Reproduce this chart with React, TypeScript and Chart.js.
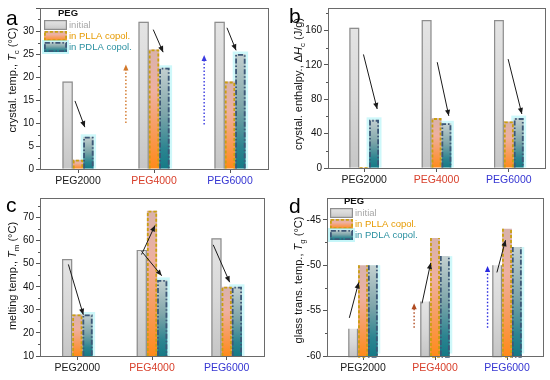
import React, { useEffect, useRef } from 'react';
import { Chart, registerables } from 'chart.js';
Chart.register(...registerables);

// ---------- data ----------
const categories = ['PEG2000', 'PEG4000', 'PEG6000'];
const categoryColors = ['#1a1a1a', '#d8402c', '#3535d2'];
const seriesNames = ['initial', 'in PLLA copol.', 'in PDLA copol.'];
const seriesTextColors = ['#a8a8a8', '#e69a00', '#2a90a0'];

const crystTempInitial = [19, 32, 32];
const crystTempPLLA = [2, 26, 19];
const crystTempPDLA = [7, 22, 25];

const enthalpyInitial = [163, 172, 172];
const enthalpyPLLA = [1, 58, 54];
const enthalpyPDLA = [56, 52, 58];

const meltInitial = [52, 56, 61];
const meltPLLA = [28, 73, 40];
const meltPDLA = [28, 43, 40];

const glassInitial = [-57, -54, -50];
const glassPLLA = [-50, -47, -46];
const glassPDLA = [-50, -49, -48];

// arrows: [fromCategoryIndex, fromValue, toCategoryIndex, toValue]
const arrowsA = [[-0.04, 14.8, 0.09, 9.1], [0.99, 30.3, 1.12, 25.4], [1.96, 30.7, 2.08, 25.8]];
const dottedA = [{ x: 0.63, from: 10, to: 22.7, color: '#d2782a' }, { x: 1.66, from: 9.7, to: 24.8, color: '#3a3ae0' }];
const arrowsB = [[-0.01, 132, 0.18, 68.6], [1.01, 123, 1.17, 60.6], [1.99, 126.6, 2.18, 62.8]];
const arrowsC = [[-0.12, 49.7, 0.08, 27.9], [0.86, 54.0, 1.04, 66.6], [0.86, 55.4, 1.13, 44.8], [1.82, 58.2, 2.04, 42]];
const arrowsD = [[-0.19, -55.8, -0.06, -51.9], [0.82, -54.2, 0.94, -49.75], [1.86, -50.8, 1.98, -47.25]];
const dottedD = [{ x: 0.71, from: -56.9, to: -54.2, color: '#b04a20' }, { x: 1.73, from: -56.9, to: -50.1, color: '#2a2ae0' }];

const FONT = 'Arial, "Liberation Sans", sans-serif';

// ---------- styles ----------
const gradStops: [number, string][][] = [
  [[0, '#e4e4e4'], [0.5, '#d8d8d8'], [1, '#c6c6c6']],
  [[0, '#d8b2ac'], [0.35, '#eeb0a0'], [0.7, '#f89a58'], [1, '#ff8a1a']],
  [[0, '#c4d0d0'], [0.45, '#7fa6aa'], [0.8, '#2c8490'], [1, '#157a86']],
];
const borderStyles = [
  { color: '#8e8e8e', width: 1.2, dash: [] as number[] },
  { color: '#c9a010', width: 1.8, dash: [3, 2] },
  { color: '#3d5878', width: 1.8, dash: [5, 2, 1.5, 2] },
];

function makeGrad(ctx: CanvasRenderingContext2D, top: number, bottom: number, stops: [number, string][]) {
  const g = ctx.createLinearGradient(0, top, 0, Math.max(bottom, top + 1));
  stops.forEach(([o, c]) => g.addColorStop(o, c));
  return g;
}

function bgFor(i: number) {
  return (c: any) => {
    const chart = c.chart;
    const ys = chart.scales && chart.scales.y;
    const stops = gradStops[i];
    if (!ys || c.type !== 'data' || !chart.chartArea) return stops[1][1];
    const raw = c.raw;
    const v = Array.isArray(raw) ? raw[1] : raw;
    const top = ys.getPixelForValue(v);
    return makeGrad(chart.ctx, top, ys.bottom, stops);
  };
}

type Seg = { t: string; s?: 'i' | 'sub' };

function drawTitle(ctx: CanvasRenderingContext2D, cx: number, cy: number, segs: Seg[], size: number) {
  ctx.save();
  ctx.translate(cx, cy);
  ctx.rotate(-Math.PI / 2);
  const fontFor = (s: Seg) =>
    s.s === 'i' ? `italic ${size}px ${FONT}` : s.s === 'sub' ? `${size * 0.72}px ${FONT}` : `${size}px ${FONT}`;
  let total = 0;
  segs.forEach((s) => { ctx.font = fontFor(s); total += ctx.measureText(s.t).width; });
  let x = -total / 2;
  ctx.fillStyle = '#111';
  ctx.textBaseline = 'alphabetic';
  ctx.textAlign = 'left';
  segs.forEach((s) => {
    ctx.font = fontFor(s);
    ctx.fillText(s.t, x, size * 0.36 + (s.s === 'sub' ? size * 0.3 : 0));
    x += ctx.measureText(s.t).width;
  });
  ctx.restore();
}

function arrowHead(ctx: CanvasRenderingContext2D, x0: number, y0: number, x1: number, y1: number, len: number, half: number) {
  const a = Math.atan2(y1 - y0, x1 - x0);
  ctx.beginPath();
  ctx.moveTo(x1, y1);
  ctx.lineTo(x1 - len * Math.cos(a) + half * Math.sin(a), y1 - len * Math.sin(a) - half * Math.cos(a));
  ctx.lineTo(x1 - len * Math.cos(a) - half * Math.sin(a), y1 - len * Math.sin(a) + half * Math.cos(a));
  ctx.closePath();
  ctx.fill();
}

function drawSwatch(ctx: CanvasRenderingContext2D, i: number, x: number, y: number, w: number, h: number) {
  ctx.save();
  if (i === 2) {
    ctx.fillStyle = 'rgba(160,240,245,0.6)';
    ctx.fillRect(x - 2, y - 2, w + 4, h + 4);
  }
  ctx.fillStyle = makeGrad(ctx, y, y + h, gradStops[i]);
  ctx.fillRect(x, y, w, h);
  const b = borderStyles[i];
  ctx.strokeStyle = b.color;
  ctx.lineWidth = b.width;
  ctx.setLineDash(b.dash);
  ctx.strokeRect(x + b.width / 2, y + b.width / 2, w - b.width, h - b.width);
  ctx.restore();
}

type PanelCfg = {
  id: string;
  left: number; top: number;
  L: number; R: number; T: number; B: number;
  series: number[][];
  floor: number;
  yMin: number; yMax: number; step: number; minor: number; hideAbove?: number;
  title: Seg[]; titleX: number; titleY: number;
  letter: string; letterX: number; letterY: number;
  legend?: { x: number; y: number };
  arrows: number[][];
  dotted?: { x: number; from: number; to: number; color: string }[];
};

const panels: PanelCfg[] = [
  {
    id: 'a', left: 0, top: 0, L: 40, R: 7, T: 3, B: 21,
    series: [crystTempInitial, crystTempPLLA, crystTempPDLA], floor: 0,
    yMin: 0, yMax: 35, step: 5, minor: 2.5, hideAbove: 30,
    title: [{ t: 'crystal. temp., ' }, { t: 'T', s: 'i' }, { t: 'c', s: 'sub' }, { t: ' (°C)' }],
    titleX: 12, titleY: 80, letter: 'a', letterX: 6, letterY: 25,
    legend: { x: 44, y: 8 }, arrows: arrowsA, dotted: dottedA,
  },
  {
    id: 'b', left: 275, top: 0, L: 53, R: 5, T: 4, B: 22,
    series: [enthalpyInitial, enthalpyPLLA, enthalpyPDLA], floor: 0,
    yMin: 0, yMax: 186, step: 40, minor: 20,
    title: [{ t: 'crystal. enthalpy., Δ' }, { t: 'H', s: 'i' }, { t: 'c', s: 'sub' }, { t: ' (J/g)' }],
    titleX: 23, titleY: 84, letter: 'b', letterX: 14, letterY: 23,
    arrows: arrowsB,
  },
  {
    id: 'c', left: 0, top: 190, L: 40, R: 11, T: 3, B: 24,
    series: [meltInitial, meltPLLA, meltPDLA], floor: 10,
    yMin: 10, yMax: 78.5, step: 10, minor: 5,
    title: [{ t: 'melting temp., ' }, { t: 'T', s: 'i' }, { t: 'm', s: 'sub' }, { t: ' (°C)' }],
    titleX: 12, titleY: 86, letter: 'c', letterX: 6, letterY: 22,
    arrows: arrowsC,
  },
  {
    id: 'd', left: 275, top: 190, L: 52, R: 7, T: 3, B: 24,
    series: [glassInitial, glassPLLA, glassPDLA], floor: -60,
    yMin: -60, yMax: -42.6, step: 5, minor: 2.5,
    title: [{ t: 'glass trans. temp., ' }, { t: 'T', s: 'i' }, { t: 'g', s: 'sub' }, { t: ' (°C)' }],
    titleX: 23, titleY: 90, letter: 'd', letterX: 14, letterY: 23,
    legend: { x: 55, y: 6 }, arrows: arrowsD, dotted: dottedD,
  },
];

function Panel({ cfg }: { cfg: PanelCfg }) {
  const ref = useRef<HTMLCanvasElement>(null);
  useEffect(() => {
    if (!ref.current) return;
    const plugin = {
      id: 'deco' + cfg.id,
      beforeDatasetsDraw(chart: any) {
        const ctx = chart.ctx as CanvasRenderingContext2D;
        const meta = chart.getDatasetMeta(2);
        ctx.save();
        ctx.fillStyle = 'rgba(165,242,246,0.55)';
        meta.data.forEach((el: any) => {
          const p = el.getProps(['x', 'y', 'base', 'width'], true);
          ctx.fillRect(p.x - p.width / 2 - 2.5, p.y - 2.5, p.width + 5, p.base - p.y + 2.5);
        });
        ctx.restore();
      },
      afterDatasetsDraw(chart: any) {
        const ctx = chart.ctx as CanvasRenderingContext2D;
        const xs = chart.scales.x, ys = chart.scales.y;
        ctx.save();
        [0, 1, 2].forEach((i) => {
          const meta = chart.getDatasetMeta(i);
          const b = borderStyles[i];
          ctx.strokeStyle = b.color;
          ctx.lineWidth = b.width;
          ctx.setLineDash(b.dash);
          meta.data.forEach((el: any) => {
            const p = el.getProps(['x', 'y', 'base', 'width'], true);
            const hw = b.width / 2;
            ctx.beginPath();
            ctx.moveTo(p.x - p.width / 2 + hw, p.base);
            ctx.lineTo(p.x - p.width / 2 + hw, p.y + hw);
            ctx.lineTo(p.x + p.width / 2 - hw, p.y + hw);
            ctx.lineTo(p.x + p.width / 2 - hw, p.base);
            ctx.stroke();
          });
        });
        ctx.setLineDash([]);
        ctx.strokeStyle = '#1a1a1a';
        ctx.fillStyle = '#1a1a1a';
        ctx.lineWidth = 1;
        cfg.arrows.forEach(([c0, v0, c1, v1]) => {
          const x0 = xs.getPixelForValue(c0), y0 = ys.getPixelForValue(v0);
          const x1 = xs.getPixelForValue(c1), y1 = ys.getPixelForValue(v1);
          ctx.beginPath();
          ctx.moveTo(x0, y0);
          ctx.lineTo(x1, y1);
          ctx.stroke();
          arrowHead(ctx, x0, y0, x1, y1, 6, 2.6);
        });
        (cfg.dotted || []).forEach((d) => {
          const x = xs.getPixelForValue(d.x);
          const y0 = ys.getPixelForValue(d.from), y1 = ys.getPixelForValue(d.to);
          ctx.strokeStyle = d.color;
          ctx.fillStyle = d.color;
          ctx.lineWidth = 1.4;
          ctx.setLineDash([1.5, 2]);
          ctx.beginPath();
          ctx.moveTo(x, y0);
          ctx.lineTo(x, y1 + 4);
          ctx.stroke();
          ctx.setLineDash([]);
          arrowHead(ctx, x, y0, x, y1, 6, 2.6);
        });
        ctx.restore();
      },
      afterDraw(chart: any) {
        const ctx = chart.ctx as CanvasRenderingContext2D;
        const a = chart.chartArea;
        const ys = chart.scales.y;
        ctx.save();
        ctx.strokeStyle = '#6a6a6a';
        ctx.lineWidth = 1;
        ctx.strokeRect(Math.round(a.left) + 0.5, Math.round(a.top) + 0.5, Math.round(a.right - a.left), Math.round(a.bottom - a.top));
        ctx.strokeStyle = '#555';
        for (let v = cfg.yMin + cfg.minor; v < cfg.yMax; v += cfg.step) {
          const y = Math.round(ys.getPixelForValue(v)) + 0.5;
          ctx.beginPath();
          ctx.moveTo(a.left, y);
          ctx.lineTo(a.left - 2, y);
          ctx.stroke();
        }
        drawTitle(ctx, cfg.titleX, cfg.titleY, cfg.title, 11);
        ctx.fillStyle = '#000';
        ctx.font = `21px ${FONT}`;
        ctx.textAlign = 'left';
        ctx.textBaseline = 'alphabetic';
        ctx.fillText(cfg.letter, cfg.letterX, cfg.letterY);
        if (cfg.legend) {
          const { x, y } = cfg.legend;
          ctx.font = `bold 9.5px ${FONT}`;
          ctx.fillStyle = '#111';
          ctx.textBaseline = 'middle';
          ctx.fillText('PEG', x + 14, y + 5);
          const rows = [y + 12, y + 23, y + 34];
          seriesNames.forEach((name, i) => {
            drawSwatch(ctx, i, x, rows[i], 23, 10);
            ctx.font = `9.5px ${FONT}`;
            ctx.fillStyle = seriesTextColors[i];
            ctx.fillText(name, x + 25, rows[i] + 5.5);
          });
        }
        ctx.restore();
      },
    };

    const datasets = cfg.series.map((vals, i) => ({
      label: seriesNames[i],
      data: vals.map((v) => [cfg.floor, v]),
      backgroundColor: bgFor(i),
      borderWidth: 0,
      categoryPercentage: 0.41,
      barPercentage: 1,
    }));

    const chart = new Chart(ref.current, {
      type: 'bar',
      data: { labels: categories, datasets: datasets as any },
      options: {
        animation: false,
        responsive: false,
        maintainAspectRatio: false,
        layout: { padding: { left: 0, top: cfg.T, right: cfg.R, bottom: 0 } },
        plugins: { legend: { display: false }, tooltip: { enabled: false } },
        scales: {
          x: {
            type: 'category',
            offset: true,
            grid: { offset: false, drawOnChartArea: false, drawTicks: true, tickLength: 4, color: '#555' },
            border: { display: true, color: '#6a6a6a' },
            ticks: {
              color: (c: any) => categoryColors[c.index] || '#111',
              font: { family: FONT, size: 10.5 },
              padding: 2,
              maxRotation: 0,
            },
            afterFit: (s: any) => { s.height = cfg.B; },
          },
          y: {
            type: 'linear',
            min: cfg.yMin,
            max: cfg.yMax,
            grid: { drawOnChartArea: false, drawTicks: true, tickLength: 4, color: '#555' },
            border: { display: true, color: '#6a6a6a' },
            ticks: {
              stepSize: cfg.step,
              includeBounds: false,
              color: '#111',
              font: { family: FONT, size: 10 },
              padding: 2,
              callback: (v: any) => (cfg.hideAbove !== undefined && v > cfg.hideAbove ? '' : String(v)),
            },
            afterFit: (s: any) => { s.width = cfg.L; },
          },
        },
      } as any,
      plugins: [plugin as any],
    });
    return () => chart.destroy();
  }, [cfg]);

  return (
    <div style={{ position: 'absolute', left: cfg.left, top: cfg.top, width: 275, height: 190 }}>
      <canvas ref={ref} width={275} height={190} style={{ width: 275, height: 190, display: 'block' }} />
    </div>
  );
}

export default function App() {
  return (
    <div style={{ position: 'absolute', left: 0, top: 0, width: 550, height: 380, background: '#fff', overflow: 'hidden' }}>
      {panels.map((p) => (
        <Panel key={p.id} cfg={p} />
      ))}
    </div>
  );
}
